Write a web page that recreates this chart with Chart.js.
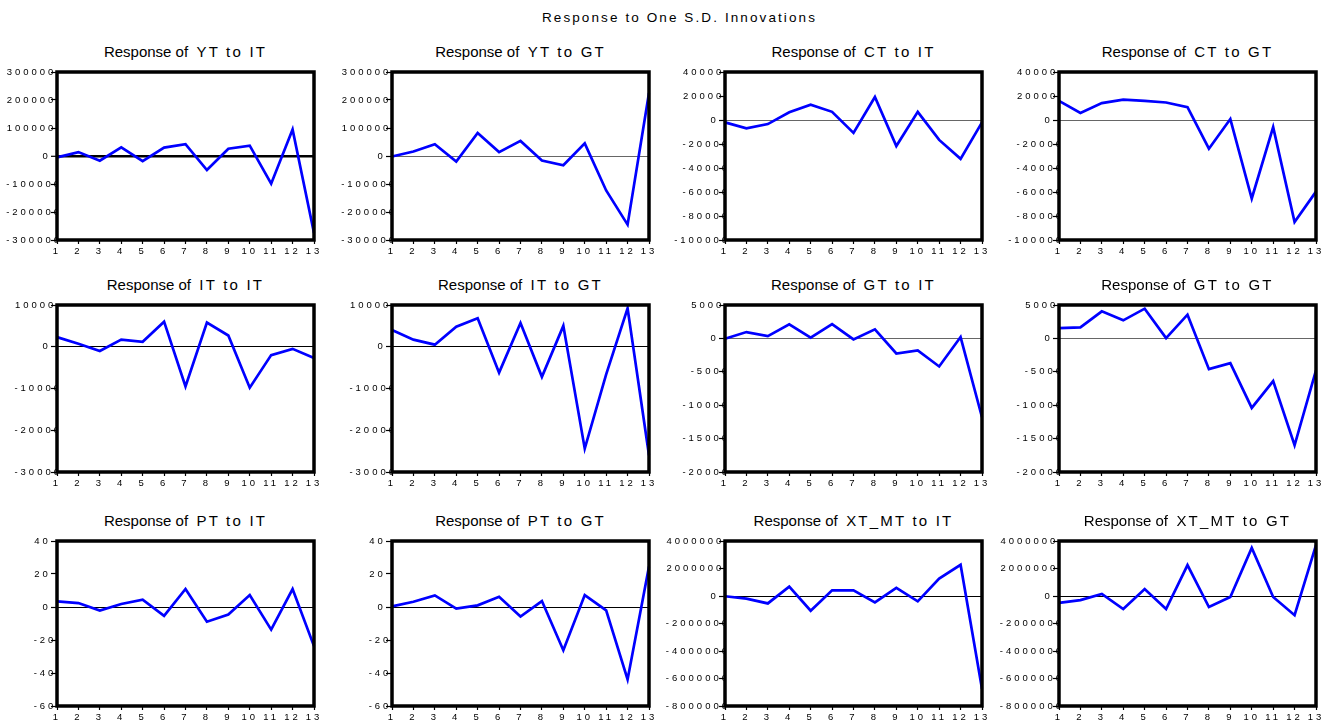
<!DOCTYPE html>
<html>
<head>
<meta charset="utf-8">
<script src="https://cdn.jsdelivr.net/npm/chart.js@4.4.1/dist/chart.umd.min.js"></script>
<style>
  html, body { margin: 0; padding: 0; background: #fff; }
  body { width: 1337px; height: 724px; position: relative; overflow: hidden; font-family: "Liberation Sans", Arial, sans-serif; }
  .header { position: absolute; top: 10px; left: 530px; width: 299px; text-align: center; font-size: 13.5px; line-height: 16px; letter-spacing: 2.1px; color: #000; white-space: nowrap; }
  .ptitle { position: absolute; height: 20px; line-height: 20px; text-align: center; font-size: 15px; color: #000; white-space: nowrap; }
  .ptitle .r { letter-spacing: 0px; }
  .ptitle .v { letter-spacing: 2.2px; }
  canvas { position: absolute; }
</style>
</head>
<body>
<div class="header">Response to One S.D. Innovations</div>
<script>
// Horizon (periods after the shock)
const periods = ['1','2','3','4','5','6','7','8','9','10','11','12','13'];

// Impulse responses, one array per response/shock pair
const ytToIt   = [-5000, 14000, -17000, 31000, -18000, 30000, 42000, -50000, 26000, 37000, -99000, 95000, -275000];
const ytToGt   = [-2000, 16000, 42000, -20000, 82000, 14000, 54000, -16000, -33000, 45000, -123000, -245000, 225000];
const ctToIt   = [-2000, -7000, -3400, 6500, 12700, 6800, -10700, 19200, -21700, 6800, -16600, -32400, -2000];
const ctToGt   = [16000, 5900, 14100, 16900, 16000, 14600, 10700, -23900, 800, -65400, -5900, -85000, -59700];
const itToIt   = [2300, 700, -1000, 1700, 1200, 6000, -9500, 5800, 2700, -9800, -2000, -500, -2700];
const itToGt   = [4000, 1700, 500, 4800, 6800, -6200, 5700, -7200, 5000, -24400, -6600, 9200, -26000];
const gtToIt   = [-50, 950, 350, 2100, 100, 2150, -150, 1350, -2260, -1800, -4200, 200, -11800];
const gtToGt   = [1550, 1650, 4050, 2700, 4450, 50, 3550, -4600, -3700, -10400, -6400, -16000, -4800];
const ptToIt   = [3.4, 2.4, -2.2, 1.8, 4.4, -5.4, 10.9, -8.9, -4.6, 7.2, -13.7, 10.9, -23.7];
const ptToGt   = [0.4, 3.2, 7.0, -1.0, 1.0, 6.2, -5.8, 3.6, -26.2, 7.2, -2.0, -43.9, 24.5];
const xtmtToIt = [-20000, -195000, -540000, 680000, -1070000, 415000, 415000, -460000, 585000, -390000, 1270000, 2270000, -6750000];
const xtmtToGt = [-500000, -300000, 150000, -950000, 500000, -950000, 2250000, -800000, -70000, 3500000, -70000, -1400000, 3700000];

// Axis ranges per response variable
const ytTicks   = { min: -300000, max: 300000, step: 100000 };
const ctTicks   = { min: -100000, max: 40000, step: 20000 };
const itTicks   = { min: -30000, max: 10000, step: 10000 };
const gtTicks   = { min: -20000, max: 5000, step: 5000 };
const ptTicks   = { min: -60, max: 40, step: 20 };
const xtmtTicks = { min: -8000000, max: 4000000, step: 2000000 };

const panels = [
  { resp: 'YT',    shock: 'IT', data: ytToIt,   axis: ytTicks },
  { resp: 'YT',    shock: 'GT', data: ytToGt,   axis: ytTicks },
  { resp: 'CT',    shock: 'IT', data: ctToIt,   axis: ctTicks },
  { resp: 'CT',    shock: 'GT', data: ctToGt,   axis: ctTicks },
  { resp: 'IT',    shock: 'IT', data: itToIt,   axis: itTicks },
  { resp: 'IT',    shock: 'GT', data: itToGt,   axis: itTicks },
  { resp: 'GT',    shock: 'IT', data: gtToIt,   axis: gtTicks },
  { resp: 'GT',    shock: 'GT', data: gtToGt,   axis: gtTicks },
  { resp: 'PT',    shock: 'IT', data: ptToIt,   axis: ptTicks },
  { resp: 'PT',    shock: 'GT', data: ptToGt,   axis: ptTicks },
  { resp: 'XT_MT', shock: 'IT', data: xtmtToIt, axis: xtmtTicks },
  { resp: 'XT_MT', shock: 'GT', data: xtmtToGt, axis: xtmtTicks }
];

// Grid geometry
const colLeft = [57, 392, 725, 1059];
const rowTop = [72, 305, 541];
const rowHeight = [168, 167, 165];
const plotW = 257;
const yAxisW = 72;
const xAxisH = 22;
const padTop = 6;
const padRight = 14;

// zero-line look per panel
const zeroStyle = [
  { c: '#000', w: 2.6 }, { c: '#666', w: 1 }, { c: '#666', w: 1 }, { c: '#666', w: 1 },
  { c: '#000', w: 1 },   { c: '#000', w: 1 }, { c: '#666', w: 1 }, { c: '#666', w: 1 },
  { c: '#000', w: 1 },   { c: '#000', w: 1 }, { c: '#000', w: 1 }, { c: '#000', w: 1 }
];

// Value labels sit right-justified in a fixed field: negatives run into the
// tick mark, positives stop a little short of it, zero sits further left.
function axisLabel(v, narrow) {
  let pad = v === 0 ? 2 : (v < 0 ? 0 : 1);
  if (narrow && v !== 0) pad += 1;
  return String(v) + ' '.repeat(pad);
}

const spacedText = {
  id: 'spacedText',
  beforeLayout(chart) { chart.ctx.letterSpacing = '3px'; },
  beforeDraw(chart) { chart.ctx.letterSpacing = '3px'; }
};

const frame = {
  id: 'frame',
  afterDatasetsDraw(chart) {
    const { ctx, chartArea: a } = chart;
    ctx.save();
    ctx.lineWidth = 3.5;
    ctx.strokeStyle = '#000';
    ctx.strokeRect(a.left, a.top, a.right - a.left, a.bottom - a.top);
    ctx.restore();
  }
};

panels.forEach((p, i) => {
  const col = i % 4, row = Math.floor(i / 4);
  const left = colLeft[col], top = rowTop[row], h = rowHeight[row];
  const narrow = p.axis === ptTicks;

  const t = document.createElement('div');
  t.className = 'ptitle';
  t.style.left = (left - 40) + 'px';
  t.style.width = (plotW + 80) + 'px';
  t.style.top = (top - 30) + 'px';
  t.innerHTML = '<span class="r">Response of</span>&nbsp;&nbsp;<span class="v">' + p.resp + ' to ' + p.shock + '</span>';
  document.body.appendChild(t);

  const cv = document.createElement('canvas');
  cv.width = yAxisW + plotW + padRight;
  cv.height = padTop + h + xAxisH;
  cv.style.left = (left - yAxisW) + 'px';
  cv.style.top = (top - padTop) + 'px';
  document.body.appendChild(cv);

  const z = zeroStyle[i];
  new Chart(cv, {
    type: 'line',
    data: {
      labels: periods,
      datasets: [{
        data: p.data,
        borderColor: '#0000ff',
        borderWidth: 2.7,
        pointRadius: 0,
        tension: 0,
        fill: false
      }]
    },
    options: {
      responsive: false,
      animation: false,
      devicePixelRatio: 1,
      layout: { padding: { top: padTop, right: padRight, left: 0, bottom: 0 } },
      plugins: { legend: { display: false }, tooltip: { enabled: false }, title: { display: false } },
      scales: {
        x: {
          offset: false,
          border: { display: false },
          grid: { drawOnChartArea: false, drawTicks: true, tickLength: 4, tickColor: '#000', tickWidth: 1.2 },
          ticks: { color: '#000', font: { family: 'Liberation Sans', size: 9.5 }, padding: 2, autoSkip: false, maxRotation: 0 },
          afterFit(s) { s.width = s.width; s.height = xAxisH; }
        },
        y: {
          min: p.axis.min,
          max: p.axis.max,
          border: { display: false },
          grid: {
            drawOnChartArea: true,
            drawTicks: true,
            tickLength: 6,
            tickColor: '#000',
            tickWidth: 1.2,
            color: c => (c.tick && c.tick.value === 0) ? z.c : 'rgba(0,0,0,0)',
            lineWidth: c => (c.tick && c.tick.value === 0) ? z.w : 1
          },
          ticks: {
            stepSize: p.axis.step,
            color: '#000',
            font: { family: 'Liberation Sans', size: 9.5 },
            padding: -11,
            autoSkip: false,
            callback: v => axisLabel(v, narrow)
          },
          afterFit(s) { s.width = yAxisW; }
        }
      }
    },
    plugins: [spacedText, frame]
  });
});
</script>
</body>
</html>
